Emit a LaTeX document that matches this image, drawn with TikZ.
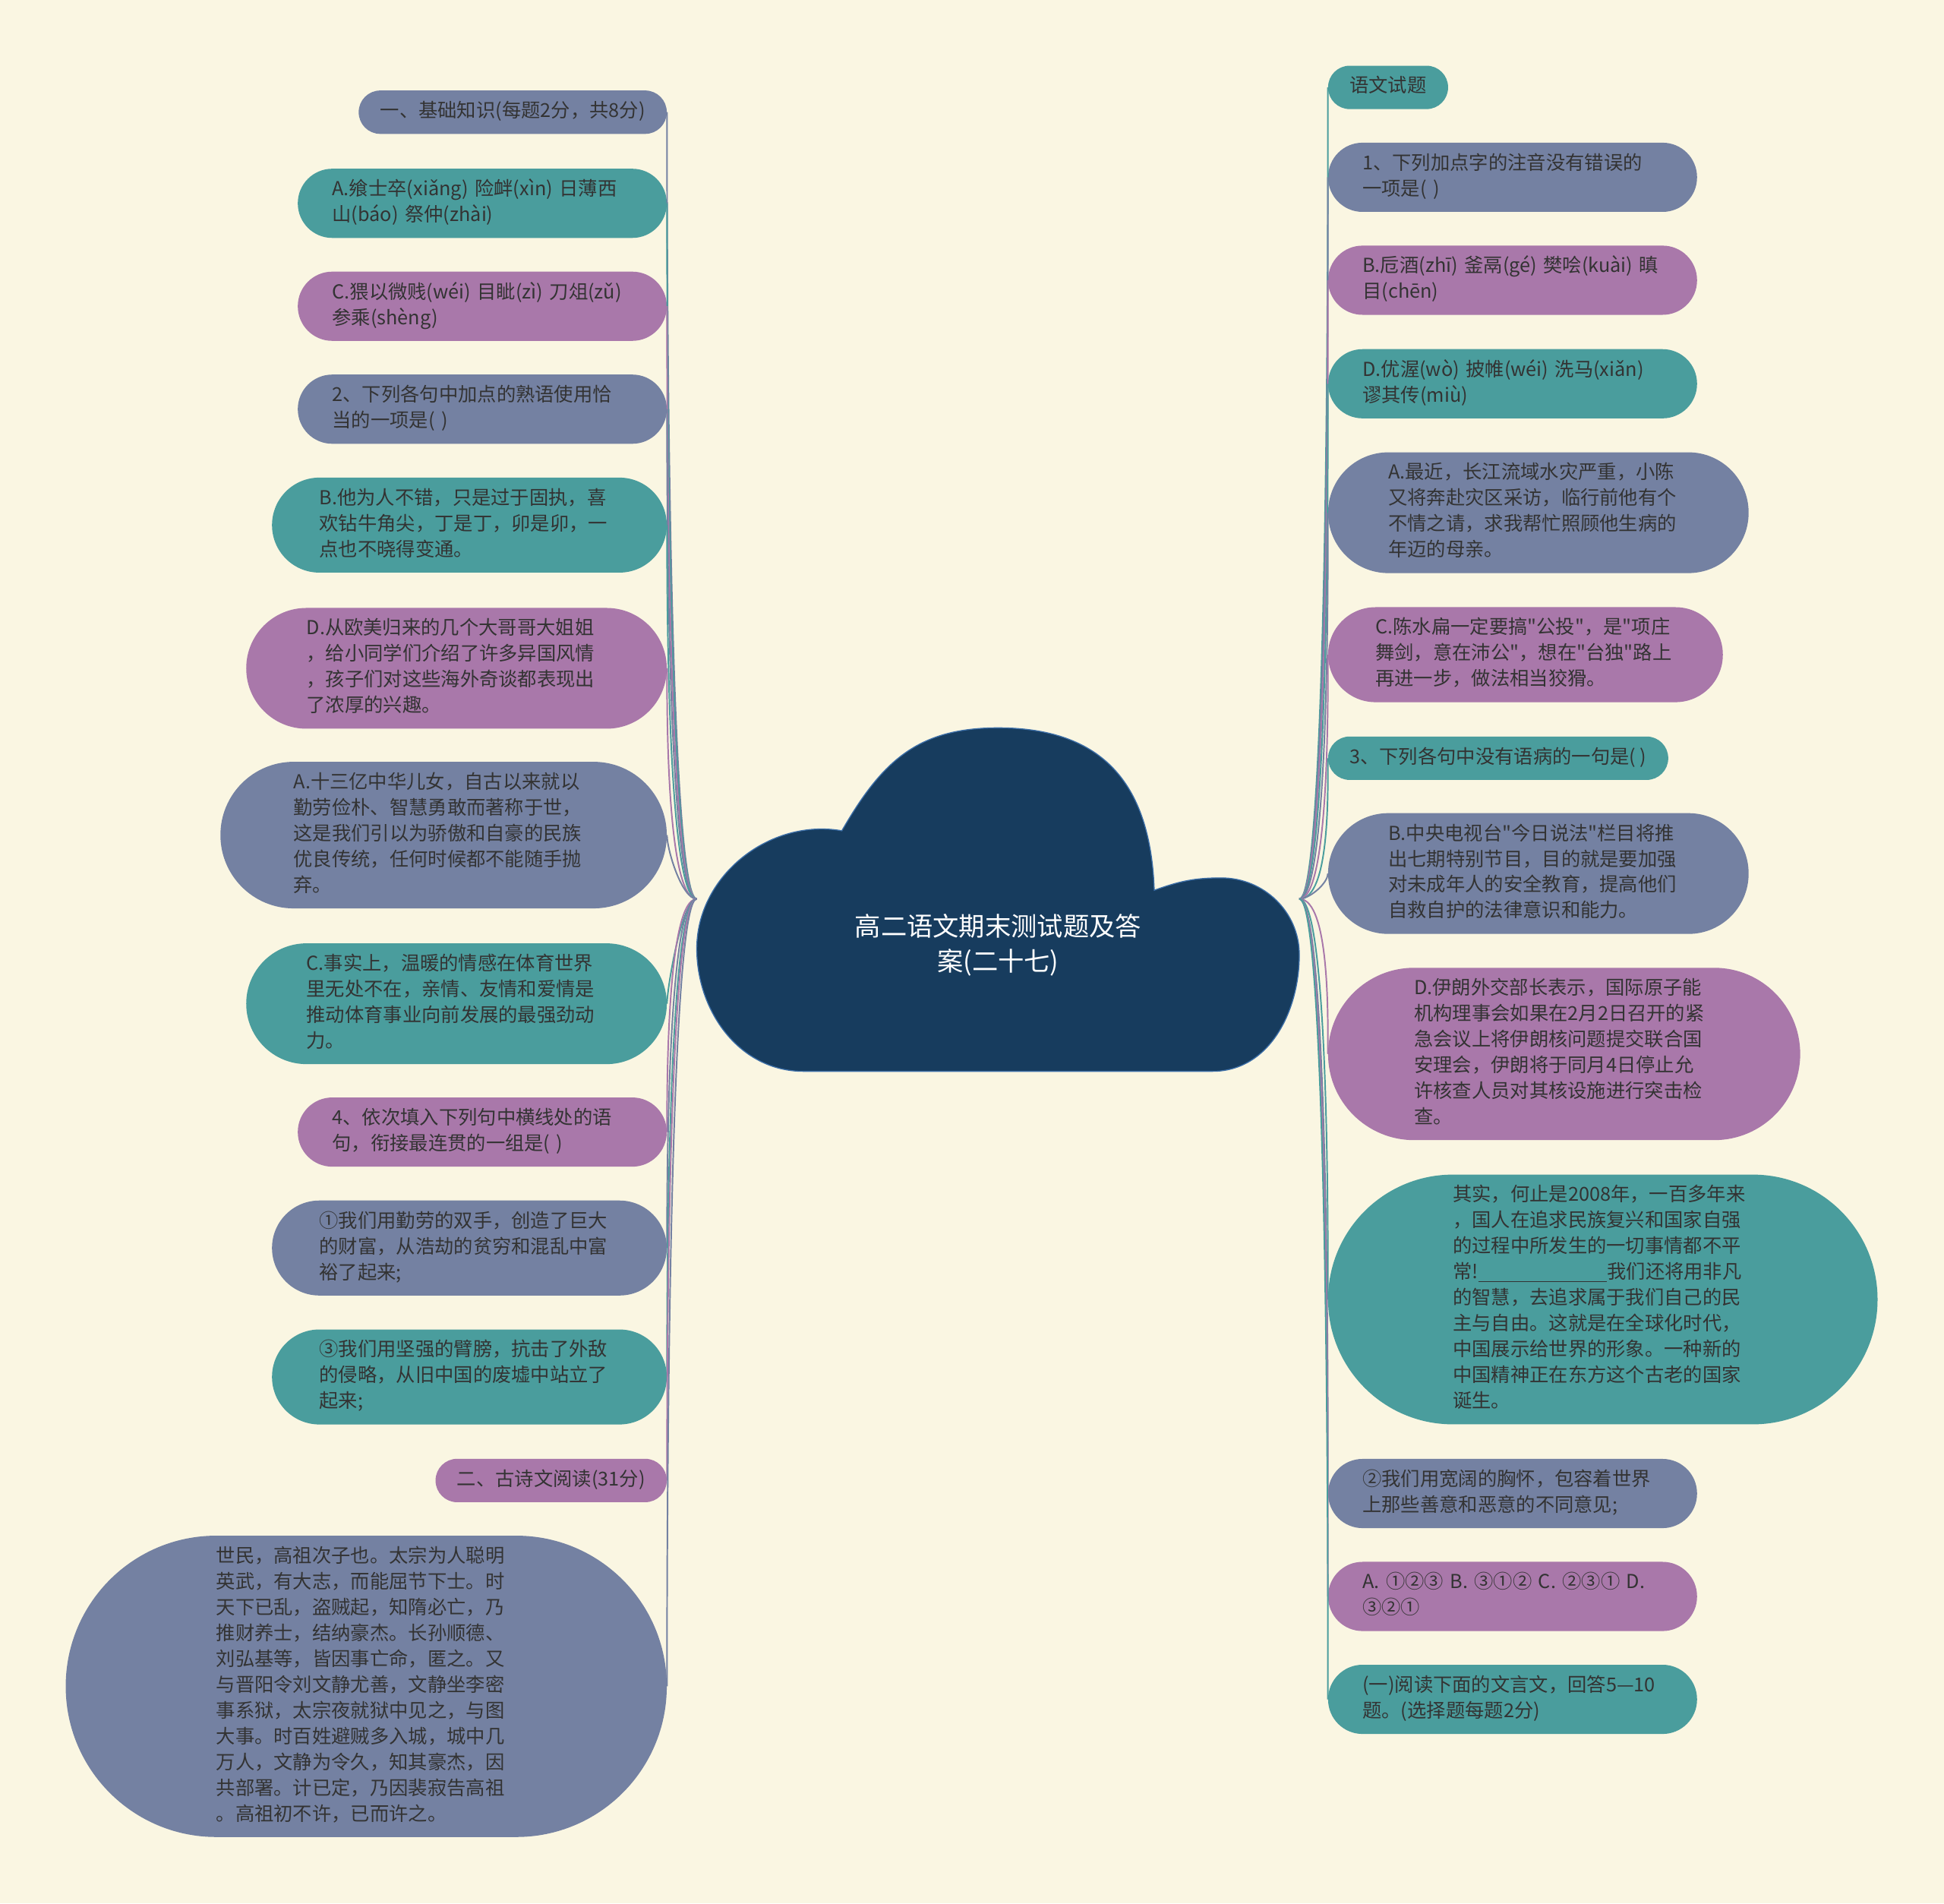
\documentclass[tikz,border=0pt]{standalone}
\usepackage{fontspec}
\setmainfont{Noto Sans CJK SC}[Ligatures=TeXOff]
\usetikzlibrary{shapes.misc}

\definecolor{paper}{HTML}{FAF6E2}
\definecolor{slate}{HTML}{7481A2}
\definecolor{sea}{HTML}{4A9D9D}
\definecolor{plum}{HTML}{A978AA}
\definecolor{ink}{HTML}{333333}
\definecolor{cloudfill}{HTML}{173C5E}
\definecolor{cloudedge}{HTML}{3D6FA8}

\begin{document}
\begin{tikzpicture}[
				x=1pt, y=1pt,
				every node/.style={font=\fontsize{15.5}{20.8}\selectfont},
				topic/.style={rectangle, inner ysep=7.1pt, align=left, text=ink, execute at begin node=\strut, execute at end node=\strut},
				pill/.style={rounded corners=#1, inner xsep=#1},
				wrap/.style={text width=242pt},
				slatenode/.style={topic, fill=slate},
				seanode/.style={topic, fill=sea},
				plumnode/.style={topic, fill=plum},
				rootnode/.style={align=center, text=white, font=\fontsize{21}{28}\selectfont},
				link/.style={line width=1.2pt, distance=25}
				]
				\fill [paper] (0,0) rectangle (1568,1535);
				\useasboundingbox (0,0) rectangle (1568,1535);

				% Cloud
				\draw [fill=cloudfill, draw=cloudedge, line width=0.8pt]
					(648,671) -- (978,671) to[out=0, in=-90] (1048,765) to[out=90, in=0] (985,827)
					to[out=180, in=20] (931,817) to[out=92, in=0, looseness=1.2] (805,948)
					to[out=180, in=60, looseness=1.1] (679,865) to[out=170, in=90] (562,770)
					to[out=-90, in=180] (648,671) -- cycle;
				\node (root) [rootnode] at (805,773) {高二语文期末测试题及答\\案(二十七)};
				\coordinate (hubL) at (562,810);
				\coordinate (hubR) at (1048,810);

				% Nodes
				\node (l1) [slatenode, pill=17.4, anchor=east] at (538,1444.5) {一、基础知识(每题2分，共8分)};
				\node (l2) [seanode, pill=27.8, wrap, anchor=east] at (538,1371) {A.飨士卒(xiǎng) 险衅(xìn) 日薄西\\山(báo) 祭仲(zhài)};
				\node (l3) [plumnode, pill=27.8, wrap, anchor=east] at (538,1288) {C.猥以微贱(wéi) 目眦(zì) 刀俎(zǔ)\\参乘(shèng)};
				\node (l4) [slatenode, pill=27.8, wrap, anchor=east] at (538,1205) {2、下列各句中加点的熟语使用恰\\当的一项是( )};
				\node (l5) [seanode, pill=38.2, wrap, anchor=east] at (538,1111.5) {B.他为人不错，只是过于固执，喜\\欢钻牛角尖，丁是丁，卯是卯，一\\点也不晓得变通。};
				\node (l6) [plumnode, pill=48.6, wrap, anchor=east] at (538,996) {D.从欧美归来的几个大哥哥大姐姐\\，给小同学们介绍了许多异国风情\\，孩子们对这些海外奇谈都表现出\\了浓厚的兴趣。};
				\node (l7) [slatenode, pill=59, wrap, anchor=east] at (538,861.5) {A.十三亿中华儿女，自古以来就以\\勤劳俭朴、智慧勇敢而著称于世，\\这是我们引以为骄傲和自豪的民族\\优良传统，任何时候都不能随手抛\\弃。};
				\node (l8) [seanode, pill=48.6, wrap, anchor=east] at (538,725.5) {C.事实上，温暖的情感在体育世界\\里无处不在，亲情、友情和爱情是\\推动体育事业向前发展的最强劲动\\力。};
				\node (l9) [plumnode, pill=27.8, wrap, anchor=east] at (538,622) {4、依次填入下列句中横线处的语\\句，衔接最连贯的一组是( )};
				\node (l10) [slatenode, pill=38.2, wrap, anchor=east] at (538,528.5) {①我们用勤劳的双手，创造了巨大\\的财富，从浩劫的贫穷和混乱中富\\裕了起来;};
				\node (l11) [seanode, pill=38.2, wrap, anchor=east] at (538,424.5) {③我们用坚强的臂膀，抗击了外敌\\的侵略，从旧中国的废墟中站立了\\起来;};
				\node (l12) [plumnode, pill=17.4, anchor=east] at (538,341) {二、古诗文阅读(31分)};
				\node (l13) [slatenode, pill=121.4, wrap, anchor=east] at (538,175) {世民，高祖次子也。太宗为人聪明\\英武，有大志，而能屈节下士。时\\天下已乱，盗贼起，知隋必亡，乃\\推财养士，结纳豪杰。长孙顺德、\\刘弘基等，皆因事亡命，匿之。又\\与晋阳令刘文静尤善，文静坐李密\\事系狱，太宗夜就狱中见之，与图\\大事。时百姓避贼多入城，城中几\\万人，文静为令久，知其豪杰，因\\共部署。计已定，乃因裴寂告高祖\\。高祖初不许，已而许之。};

				\node (r1) [seanode, pill=17.4, anchor=west] at (1071,1464.5) {语文试题};
				\node (r2) [slatenode, pill=27.8, wrap, anchor=west] at (1071,1392) {1、下列加点字的注音没有错误的\\一项是( )};
				\node (r3) [plumnode, pill=27.8, wrap, anchor=west] at (1071,1309) {B.卮酒(zhī) 釜鬲(gé) 樊哙(kuài) 瞋\\目(chēn)};
				\node (r4) [seanode, pill=27.8, wrap, anchor=west] at (1071,1225.5) {D.优渥(wò) 披帷(wéi) 洗马(xiǎn)\\谬其传(miù)};
				\node (r5) [slatenode, pill=48.6, wrap, anchor=west] at (1071,1121.5) {A.最近，长江流域水灾严重，小陈\\又将奔赴灾区采访，临行前他有个\\不情之请，求我帮忙照顾他生病的\\年迈的母亲。};
				\node (r6) [plumnode, pill=38.2, wrap, anchor=west] at (1071,1007) {C.陈水扁一定要搞"公投"，是"项庄\\舞剑，意在沛公"，想在"台独"路上\\再进一步，做法相当狡猾。};
				\node (r7) [seanode, pill=17.4, anchor=west] at (1071,923.5) {3、下列各句中没有语病的一句是( )};
				\node (r8) [slatenode, pill=48.6, wrap, anchor=west] at (1071,830.5) {B.中央电视台"今日说法"栏目将推\\出七期特别节目，目的就是要加强\\对未成年人的安全教育，提高他们\\自救自护的法律意识和能力。};
				\node (r9) [plumnode, pill=69.4, wrap, anchor=west] at (1071,685) {D.伊朗外交部长表示，国际原子能\\机构理事会如果在2月2日召开的紧\\急会议上将伊朗核问题提交联合国\\安理会，伊朗将于同月4日停止允\\许核查人员对其核设施进行突击检\\查。};
				\node (r10) [seanode, pill=100.6, wrap, anchor=west] at (1071,487) {其实，何止是2008年，一百多年来\\，国人在追求民族复兴和国家自强\\的过程中所发生的一切事情都不平\\常!\rule[-2.5pt]{104pt}{0.7pt}我们还将用非凡\\的智慧，去追求属于我们自己的民\\主与自由。这就是在全球化时代，\\中国展示给世界的形象。一种新的\\中国精神正在东方这个古老的国家\\诞生。};
				\node (r11) [slatenode, pill=27.8, wrap, anchor=west] at (1071,330.5) {②我们用宽阔的胸怀，包容着世界\\上那些善意和恶意的不同意见;};
				\node (r12) [plumnode, pill=27.8, wrap, anchor=west] at (1071,247.5) {A. ①②③ B. ③①② C. ②③① D.\\③②①};
				\node (r13) [seanode, pill=27.8, wrap, anchor=west] at (1071,164.5) {(一)阅读下面的文言文，回答5—10\\题。(选择题每题2分)};

				% Links
				\draw [link, slate] (hubL) to[out=180, in=-90] (l1.east);
				\draw [link, sea] (hubL) to[out=180, in=-90] (l2.east);
				\draw [link, plum] (hubL) to[out=180, in=-90] (l3.east);
				\draw [link, slate] (hubL) to[out=180, in=-90] (l4.east);
				\draw [link, sea] (hubL) to[out=180, in=-90] (l5.east);
				\draw [link, plum] (hubL) to[out=180, in=-90] (l6.east);
				\draw [link, slate, distance=12] (hubL) to[out=180, in=-90] (l7.east);
				\draw [link, sea, distance=12] (hubL) to[out=180, in=90] (l8.east);
				\draw [link, plum] (hubL) to[out=180, in=90] (l9.east);
				\draw [link, slate] (hubL) to[out=180, in=90] (l10.east);
				\draw [link, sea] (hubL) to[out=180, in=90] (l11.east);
				\draw [link, plum] (hubL) to[out=180, in=90] (l12.east);
				\draw [link, slate] (hubL) to[out=180, in=90] (l13.east);

				\draw [link, sea] (hubR) to[out=0, in=-90] (r1.west);
				\draw [link, slate] (hubR) to[out=0, in=-90] (r2.west);
				\draw [link, plum] (hubR) to[out=0, in=-90] (r3.west);
				\draw [link, sea] (hubR) to[out=0, in=-90] (r4.west);
				\draw [link, slate] (hubR) to[out=0, in=-90] (r5.west);
				\draw [link, plum] (hubR) to[out=0, in=-90] (r6.west);
				\draw [link, sea] (hubR) to[out=0, in=-90] (r7.west);
				\draw [link, slate, distance=8] (hubR) to[out=0, in=-90] (r8.west);
				\draw [link, plum] (hubR) to[out=0, in=90] (r9.west);
				\draw [link, sea] (hubR) to[out=0, in=90] (r10.west);
				\draw [link, slate] (hubR) to[out=0, in=90] (r11.west);
				\draw [link, plum] (hubR) to[out=0, in=90] (r12.west);
				\draw [link, sea] (hubR) to[out=0, in=90] (r13.west);
			\end{tikzpicture}
\end{document}
